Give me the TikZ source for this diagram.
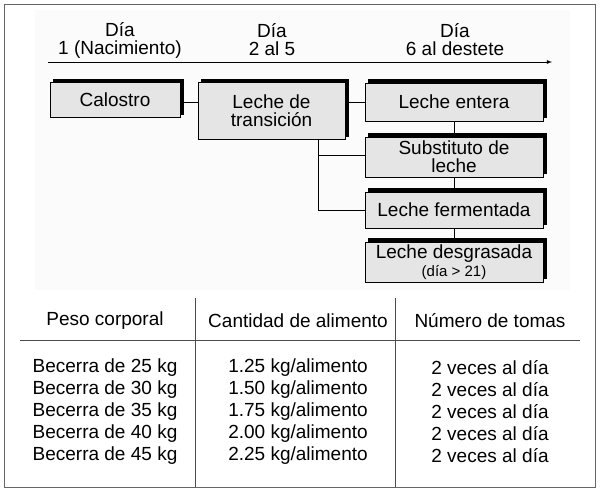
\documentclass[tikz,border=0pt]{standalone}
\usepackage{fontspec}
\setmainfont{Liberation Sans}
\usetikzlibrary{shadows}
\tikzset{
  etapa/.style={draw, thick, fill=gray!20, align=center, inner sep=0pt,
    copy shadow={shadow xshift=3.5pt, shadow yshift=3.5pt, fill=black, draw=black}},
  linea/.style={thick}
}
\begin{document}
\begin{tikzpicture}[x=1pt,y=-1pt]
\fontsize{19}{18}\selectfont
\useasboundingbox (0,0) rectangle (600,493);
\fill[gray!3] (35,10) rectangle (570,290);
\draw[gray!80!black] (4,4) rectangle (595,487);
% eje de tiempo
\coordinate (ini) at (48,62);
\coordinate (fin) at (552,62);
\draw[thick,-latex] (ini) -- (fin);
\node[align=center] (d1) at (120,40) {Día\\1 (Nacimiento)};
\node[align=center] (d2) at (272,40) {Día\\2 al 5};
\node[align=center] (d3) at (455,40) {Día\\6 al destete};
% etapas
\node[etapa, minimum width=130, minimum height=35] (cal) at (115,100) {Calostro};
\node[etapa, minimum width=147, minimum height=57] (tra) at (271.5,111) {Leche de\\transición};
\node[etapa, minimum width=178, minimum height=38] (ent) at (454,102) {Leche entera};
\node[etapa, minimum width=178, minimum height=40] (sus) at (454,157) {Substituto de\\leche};
\node[etapa, minimum width=178, minimum height=36] (fer) at (454,210) {Leche fermentada};
\node[etapa, minimum width=178, minimum height=40] (des) at (454,262) {Leche desgrasada\\{\fontsize{15}{15}\selectfont(día > 21)}};
\draw[linea] (cal.east |- 0,102) -- (tra.west |- 0,102);
\draw[linea] (tra.east |- 0,102) -- (ent.west |- 0,102);
\draw[linea] (ent.south) -- (sus.north);
\draw[linea] (sus.south) -- (fer.north);
\draw[linea] (fer.south) -- (des.north);
\coordinate (rama) at (318,139.5);
\draw[linea] (rama) |- (fer.west);
\draw[linea] (318,155) -- (sus.west |- 0,155);
% tabla
\draw[gray!60!black] (195,298) -- (195,487);
\draw[gray!60!black] (395,298) -- (395,487);
\draw[gray!60!black] (20,340) -- (580,340);
\node (h1) at (105,321) {Peso corporal};
\node (h2) at (298,321) {Cantidad de alimento};
\node (h3) at (490,321) {Número de tomas};
\foreach \p/\c [count=\i from 0] in {25/1.25,30/1.50,35/1.75,40/2.00,45/2.25}{
  \node (p\i) at (105,368+21.8*\i) {Becerra de \p\ kg};
  \node (c\i) at (298,368+21.8*\i) {\c\ kg/alimento};
  \node (n\i) at (490,368+21.8*\i) {2 veces al día};
}
\end{tikzpicture}
\end{document}
